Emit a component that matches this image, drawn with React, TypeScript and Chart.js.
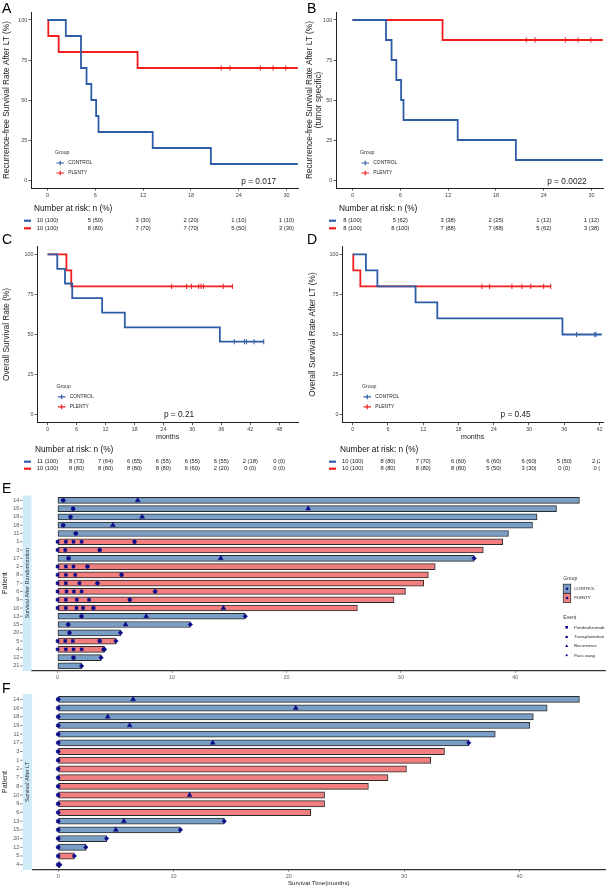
import React, { useEffect, useRef } from "react";
import { Chart, registerables } from "chart.js";

Chart.register(...registerables);

// ---------------- DATA ----------------
const groupNames = ["CONTROL", "PLENTY"];
const eventNames = ["Pembrolizumab", "Transplantation", "Recurrence", "Pass away"];

// Panel A: recurrence-free survival after LT
const aTicks = [0, 6, 12, 18, 24, 30];
const aControlTimes = [0, 2.3, 4.2, 4.9, 5.5, 6.1, 6.4, 13.2, 20.5, 31.4];
const aControlSurv = [100, 90, 70, 60, 50, 40, 30, 20, 10, 10];
const aControlCensor: number[] = [];
const aPlentyTimes = [0, 0.1, 1.4, 11.3, 31.4];
const aPlentySurv = [100, 90, 80, 70, 70];
const aPlentyCensor = [21.8, 22.9, 26.7, 28.3, 29.9];
const aRiskControl = ["10 (100)", "5 (50)", "3 (30)", "2 (20)", "1 (10)", "1 (10)"];
const aRiskPlenty = ["10 (100)", "8 (80)", "7 (70)", "7 (70)", "5 (50)", "3 (30)"];
const aP = "p = 0.017";

// Panel B: tumor-specific recurrence-free survival
const bTicks = [0, 6, 12, 18, 24, 30];
const bControlTimes = [0, 4.2, 4.9, 5.5, 6.1, 6.4, 13.2, 20.5, 31.4];
const bControlSurv = [100, 87.5, 75, 62.5, 50, 37.5, 25, 12.5, 12.5];
const bControlCensor: number[] = [];
const bPlentyTimes = [0, 11.3, 31.4];
const bPlentySurv = [100, 87.5, 87.5];
const bPlentyCensor = [21.8, 22.9, 26.7, 28.3, 29.9];
const bRiskControl = ["8 (100)", "5 (62)", "3 (38)", "2 (25)", "1 (12)", "1 (12)"];
const bRiskPlenty = ["8 (100)", "8 (100)", "7 (88)", "7 (88)", "5 (62)", "3 (38)"];
const bP = "p = 0.0022";

// Panel C: overall survival
const cTicks = [0, 6, 12, 18, 24, 30, 36, 42, 48];
const cControlTimes = [0, 2.0, 3.6, 5.1, 11.3, 16.0, 35.7, 44.8];
const cControlSurv = [100, 90.9, 81.8, 72.7, 63.6, 54.5, 45.5, 45.5];
const cControlCensor = [38.7, 40.8, 41.2, 42.8, 44.8];
const cPlentyTimes = [0, 3.9, 4.9, 38.3];
const cPlentySurv = [100, 90, 80, 80];
const cPlentyCensor = [25.7, 28.8, 29.8, 31.3, 31.8, 32.3, 36.4, 38.3];
const cRiskControl = ["11 (100)", "8 (73)", "7 (64)", "6 (55)", "6 (55)", "6 (55)", "6 (55)", "2 (18)", "0 (0)"];
const cRiskPlenty = ["10 (100)", "8 (80)", "8 (80)", "8 (80)", "8 (80)", "6 (60)", "2 (20)", "0 (0)", "0 (0)"];
const cP = "p = 0.21";

// Panel D: overall survival after LT
const dTicks = [0, 6, 12, 18, 24, 30, 36, 42];
const dControlTimes = [0, 2.25, 4.2, 10.7, 14.4, 35.7, 42.4];
const dControlSurv = [100, 90, 80, 70, 60, 50, 50];
const dControlCensor = [38.1, 41.2, 41.4];
const dPlentyTimes = [0, 0.1, 1.3, 33.7];
const dPlentySurv = [100, 90, 80, 80];
const dPlentyCensor = [22.0, 23.3, 27.1, 28.8, 30.3, 32.5, 33.7];
const dRiskControl = ["10 (100)", "8 (80)", "7 (70)", "6 (60)", "6 (60)", "6 (60)", "5 (50)", "2 (20)"];
const dRiskPlenty = ["10 (100)", "8 (80)", "8 (80)", "8 (80)", "5 (50)", "3 (30)", "0 (0)", "0 (0)"];
const dP = "p = 0.45";

// Panel E: swimmer plot, survival after randomization
const swimTicks = [0, 10, 20, 30, 40];
const ePatients = ["14", "16", "19", "18", "11", "1", "3", "17", "2", "8", "7", "6", "9", "10", "13", "15", "20", "5", "4", "12", "21"];
const eGroups = ["CONTROL", "CONTROL", "CONTROL", "CONTROL", "CONTROL", "PLENTY", "PLENTY", "CONTROL", "PLENTY", "PLENTY", "PLENTY", "PLENTY", "PLENTY", "PLENTY", "CONTROL", "CONTROL", "CONTROL", "PLENTY", "PLENTY", "CONTROL", "CONTROL"];
const eTimes = [45.6, 43.6, 41.9, 41.5, 39.4, 38.9, 37.2, 36.4, 33.0, 32.4, 32.0, 30.4, 29.4, 26.2, 16.4, 11.6, 5.5, 5.1, 4.1, 3.8, 2.1];
const ePembro: [string, number][] = [
  ["1", 0], ["1", 0.72], ["1", 1.39], ["1", 2.1],
  ["3", 0], ["3", 0.67],
  ["2", 0], ["2", 0.72], ["2", 1.39],
  ["8", 0], ["8", 0.72], ["8", 1.54],
  ["7", 0], ["7", 0.72], ["7", 1.91],
  ["6", 0], ["6", 0.78], ["6", 1.42], ["6", 2.1],
  ["9", 0], ["9", 0.72], ["9", 1.68], ["9", 2.75],
  ["10", 0], ["10", 0.72], ["10", 1.65], ["10", 2.23],
  ["5", 0], ["5", 0.67], ["5", 1.33],
  ["4", 0], ["4", 0.72], ["4", 1.39], ["4", 2.1],
];
const eTransplant: [string, number][] = [
  ["14", 0.49], ["16", 1.36], ["19", 1.13], ["18", 0.49], ["11", 1.59], ["1", 6.72], ["3", 3.68],
  ["17", 0.96], ["2", 2.61], ["8", 5.59], ["7", 3.48], ["6", 8.52], ["9", 6.31], ["10", 3.13],
  ["13", 2.09], ["15", 0.93], ["20", 1.04], ["5", 3.68], ["4", 4.03], ["12", 1.39],
];
const eRecurrence: [string, number][] = [
  ["14", 7.0], ["16", 21.9], ["19", 7.39], ["18", 4.83], ["17", 14.26], ["10", 14.49], ["13", 7.74], ["15", 5.94],
];
const ePassAway: [string, number][] = [
  ["17", 36.4], ["13", 16.4], ["15", 11.6], ["20", 5.5], ["5", 5.1], ["4", 4.1], ["12", 3.8], ["21", 2.1],
];

// Panel F: swimmer plot, survival after LT
const fPatients = ["14", "16", "18", "19", "11", "17", "3", "1", "2", "7", "8", "10", "9", "6", "13", "15", "20", "12", "5", "4"];
const fGroups = ["CONTROL", "CONTROL", "CONTROL", "CONTROL", "CONTROL", "CONTROL", "PLENTY", "PLENTY", "PLENTY", "PLENTY", "PLENTY", "PLENTY", "PLENTY", "PLENTY", "CONTROL", "CONTROL", "CONTROL", "CONTROL", "PLENTY", "PLENTY"];
const fTimes = [45.2, 42.4, 41.2, 40.9, 37.9, 35.6, 33.5, 32.3, 30.2, 28.6, 26.9, 23.1, 23.1, 21.9, 14.4, 10.6, 4.2, 2.4, 1.4, 0.15];
const fPembro: [string, number][] = [];
const fTransplant: [string, number][] = [
  ["14", 0], ["16", 0], ["18", 0], ["19", 0], ["11", 0], ["17", 0], ["3", 0], ["1", 0], ["2", 0], ["7", 0],
  ["8", 0], ["10", 0], ["9", 0], ["6", 0], ["13", 0], ["15", 0], ["20", 0], ["12", 0], ["5", 0], ["4", 0],
];
const fRecurrence: [string, number][] = [
  ["14", 6.5], ["16", 20.6], ["18", 4.3], ["19", 6.2], ["17", 13.4], ["10", 11.4], ["13", 5.7], ["15", 5.0],
];
const fPassAway: [string, number][] = [
  ["17", 35.6], ["13", 14.4], ["15", 10.6], ["20", 4.2], ["12", 2.4], ["5", 1.4], ["4", 0.15],
];

// ---------------- STYLE ----------------
const FONT = "'Liberation Sans', Arial, Helvetica, sans-serif";
const BLUE = "#2E5CA6";
const RED = "#F21D1D";
const BAR_CONTROL = "#7A9FC6";
const BAR_PLENTY = "#F27F7F";
const NAVY = "#0B0B8A";
const STRIP = "#CFEBF8";

type Series = { times: number[]; surv: number[]; censor: number[] };
type KMSpec = {
  letter: string; left: number; top: number; width: number; height: number;
  plotL: number; plotT: number; plotR: number; plotB: number;
  xMin: number; xMax: number; ticks: number[];
  control: Series; plenty: Series;
  yTitle: string[]; yTitleX: number[]; letterY: number;
  legendX: number; legendY: number;
  pText: string; pX: number; pY: number;
  xTitle?: string; xTitleY?: number;
  riskHeaderX: number; riskHeaderY: number; riskRowY: number[];
  riskControl: string[]; riskPlenty: string[]; riskClip?: number;
};

const specA: KMSpec = {
  letter: "A", left: 0, top: 0, width: 305, height: 236,
  plotL: 31, plotT: 12, plotR: 298, plotB: 188, xMin: -2.07, xMax: 31.43, ticks: aTicks,
  control: { times: aControlTimes, surv: aControlSurv, censor: aControlCensor },
  plenty: { times: aPlentyTimes, surv: aPlentySurv, censor: aPlentyCensor },
  yTitle: ["Recurrence-free Survival Rate After LT (%)"], yTitleX: [6.3], letterY: 12.7,
  legendX: 55, legendY: 153, pText: aP, pX: 258.7, pY: 182,
  riskHeaderX: 34, riskHeaderY: 208.3, riskRowY: [220.7, 228.3],
  riskControl: aRiskControl, riskPlenty: aRiskPlenty,
};
const specB: KMSpec = {
  letter: "B", left: 305, top: 0, width: 305, height: 236,
  plotL: 31, plotT: 12, plotR: 298, plotB: 188, xMin: -2.07, xMax: 31.43, ticks: bTicks,
  control: { times: bControlTimes, surv: bControlSurv, censor: bControlCensor },
  plenty: { times: bPlentyTimes, surv: bPlentySurv, censor: bPlentyCensor },
  yTitle: ["Recurrence-free Survival Rate After LT (%)", "(tumor specific)"], yTitleX: [5.2, 14.2], letterY: 12.7,
  legendX: 55, legendY: 153, pText: bP, pX: 262, pY: 182,
  riskHeaderX: 34, riskHeaderY: 208.3, riskRowY: [220.7, 228.3],
  riskControl: bRiskControl, riskPlenty: bRiskPlenty,
};
const specC: KMSpec = {
  letter: "C", left: 0, top: 230, width: 305, height: 244,
  plotL: 37.3, plotT: 16.3, plotR: 298, plotB: 192.7, xMin: -2.14, xMax: 51.9, ticks: cTicks,
  control: { times: cControlTimes, surv: cControlSurv, censor: cControlCensor },
  plenty: { times: cPlentyTimes, surv: cPlentySurv, censor: cPlentyCensor },
  yTitle: ["Overall Survival Rate (%)"], yTitleX: [6.7], letterY: 14.3,
  legendX: 56.4, legendY: 156.9, pText: cP, pX: 179, pY: 185,
  xTitle: "months", xTitleY: 207.3,
  riskHeaderX: 35, riskHeaderY: 219.3, riskRowY: [231.7, 238.7],
  riskControl: cRiskControl, riskPlenty: cRiskPlenty,
};
const specD: KMSpec = {
  letter: "D", left: 305, top: 230, width: 305, height: 244,
  plotL: 37.3, plotT: 16.3, plotR: 298, plotB: 192.7, xMin: -1.77, xMax: 42.6, ticks: dTicks,
  control: { times: dControlTimes, surv: dControlSurv, censor: dControlCensor },
  plenty: { times: dPlentyTimes, surv: dPlentySurv, censor: dPlentyCensor },
  yTitle: ["Overall Survival Rate After LT (%)"], yTitleX: [7.8], letterY: 14.3,
  legendX: 57, legendY: 156.9, pText: dP, pX: 210.6, pY: 185,
  xTitle: "months", xTitleY: 207.3,
  riskHeaderX: 35, riskHeaderY: 219.3, riskRowY: [231.7, 238.7],
  riskControl: dRiskControl, riskPlenty: dRiskPlenty, riskClip: 295,
};

type SwimSpec = {
  letter: string; letterY: number; left: number; top: number; width: number; height: number;
  plotL: number; plotT: number; plotR: number; plotB: number; xMin: number; xMax: number;
  patients: string[]; groups: string[]; times: number[];
  pembro: [string, number][]; transplant: [string, number][]; recurrence: [string, number][]; pass: [string, number][];
  strip: string; xTitle?: string; xTitleY?: number; legend: boolean; barH: number;
};

const specE: SwimSpec = {
  letter: "E", letterY: 14.7, left: 0, top: 478, width: 610, height: 206,
  plotL: 31.5, plotT: 17.4, plotR: 608.3, plotB: 192.9, xMin: -2.28, xMax: 47.88,
  patients: ePatients, groups: eGroups, times: eTimes,
  pembro: ePembro, transplant: eTransplant, recurrence: eRecurrence, pass: ePassAway,
  strip: "Survival After Randomization", legend: true, barH: 6,
};
const specF: SwimSpec = {
  letter: "F", letterY: 12.7, left: 0, top: 680, width: 610, height: 208,
  plotL: 32.1, plotT: 14.1, plotR: 608.8, plotB: 189.9, xMin: -2.26, xMax: 47.46,
  patients: fPatients, groups: fGroups, times: fTimes,
  pembro: fPembro, transplant: fTransplant, recurrence: fRecurrence, pass: fPassAway,
  strip: "Survival After LT", xTitle: "Survival Time(months)", xTitleY: 203.3, legend: false, barH: 6.2,
};

// ---------------- HELPERS ----------------
const survAt = (s: Series, t: number) => {
  let v = s.surv[0];
  for (let i = 0; i < s.times.length; i++) if (s.times[i] <= t) v = s.surv[i];
  return v;
};

function vText(ctx: CanvasRenderingContext2D, text: string, x: number, y: number) {
  ctx.save();
  ctx.translate(x, y);
  ctx.rotate(-Math.PI / 2);
  ctx.fillText(text, 0, 0);
  ctx.restore();
}

function drawMarker(ctx: CanvasRenderingContext2D, style: string, x: number, y: number, r: number) {
  ctx.fillStyle = NAVY;
  ctx.beginPath();
  if (style === "rect") ctx.rect(x - r, y - r, 2 * r, 2 * r);
  else if (style === "circle") ctx.arc(x, y, r, 0, Math.PI * 2);
  else if (style === "triangle") {
    ctx.moveTo(x, y - r * 1.15); ctx.lineTo(x + r, y + r * 0.6); ctx.lineTo(x - r, y + r * 0.6); ctx.closePath();
  } else {
    ctx.moveTo(x, y - r); ctx.lineTo(x + r, y); ctx.lineTo(x, y + r); ctx.lineTo(x - r, y); ctx.closePath();
  }
  ctx.fill();
}

function axisOpts(min: number, max: number, ticks: number[], size: number, extra: any) {
  return {
    type: "linear", min, max, offset: false,
    afterBuildTicks: (ax: any) => { ax.ticks = ticks.map((v) => ({ value: v })); },
    grid: { display: true, drawOnChartArea: false, drawTicks: true, tickLength: 2.5, color: "#333", lineWidth: 0.8, offset: false },
    border: { display: true, color: "#222", width: 1 },
    ticks: { font: { family: FONT, size }, color: "#444", padding: 1.2, maxRotation: 0, autoSkip: false },
    ...extra,
  };
}

// ---------------- KM CONFIG ----------------
function kmConfig(spec: KMSpec): any {
  const XH = 12;
  const line = (s: Series, color: string) => ({
    data: s.times.map((t, i) => ({ x: t, y: s.surv[i] })),
    borderColor: color, borderWidth: 1.8, stepped: true, pointRadius: 0, fill: false, order: 2,
  });
  const cens = (s: Series, color: string) => ({
    data: s.censor.map((t) => ({ x: t, y: survAt(s, t) })),
    showLine: false, pointStyle: "line", rotation: 90, pointRadius: 2.6,
    borderColor: color, backgroundColor: color, borderWidth: 1, order: 1,
  });
  const decor = {
    id: "kmDecor" + spec.letter,
    afterDraw(chart: any) {
      const ctx: CanvasRenderingContext2D = chart.ctx;
      const xs = chart.scales.x;
      const ca = chart.chartArea;
      ctx.save();
      ctx.fillStyle = "#000";
      ctx.font = `14px ${FONT}`;
      ctx.textAlign = "left";
      ctx.textBaseline = "alphabetic";
      ctx.fillText(spec.letter, 2, spec.letterY);
      ctx.fillStyle = "#222";
      ctx.font = `8.3px ${FONT}`;
      ctx.textAlign = "center";
      ctx.textBaseline = "middle";
      spec.yTitle.forEach((t, i) => vText(ctx, t, spec.yTitleX[i], (ca.top + ca.bottom) / 2));
      if (spec.xTitle) {
        ctx.font = `7.1px ${FONT}`;
        ctx.fillText(spec.xTitle, (ca.left + ca.right) / 2, spec.xTitleY!);
      }
      ctx.font = `8.3px ${FONT}`;
      ctx.fillText(spec.pText, spec.pX, spec.pY);
      ctx.textAlign = "left";
      ctx.fillStyle = "#333";
      ctx.font = `5.2px ${FONT}`;
      ctx.fillText("Group", spec.legendX, spec.legendY);
      [BLUE, RED].forEach((c, i) => {
        const y = spec.legendY + 10 * (i + 1);
        const lx = spec.legendX;
        ctx.strokeStyle = c;
        ctx.lineWidth = 1.2;
        ctx.beginPath();
        ctx.moveTo(lx + 1.5, y); ctx.lineTo(lx + 9, y);
        ctx.moveTo(lx + 5.25, y - 2.3); ctx.lineTo(lx + 5.25, y + 2.3);
        ctx.stroke();
        ctx.fillStyle = "#222";
        ctx.font = `4.9px ${FONT}`;
        ctx.fillText(groupNames[i], lx + 13.3, y);
      });
      ctx.fillStyle = "#111";
      ctx.font = `8.3px ${FONT}`;
      ctx.fillText("Number at risk: n (%)", spec.riskHeaderX, spec.riskHeaderY);
      [spec.riskControl, spec.riskPlenty].forEach((row, r) => {
        const y = spec.riskRowY[r];
        ctx.fillStyle = r === 0 ? BLUE : RED;
        ctx.fillRect(24, y - 1.1, 7, 2.2);
        ctx.save();
        ctx.beginPath();
        ctx.rect(0, 0, spec.riskClip ?? spec.width, spec.height);
        ctx.clip();
        ctx.fillStyle = "#222";
        ctx.font = `5.8px ${FONT}`;
        ctx.textAlign = "center";
        row.forEach((txt, i) => ctx.fillText(txt, xs.getPixelForValue(spec.ticks[i]), y));
        ctx.restore();
      });
      ctx.restore();
    },
  };
  return {
    type: "line",
    data: {
      datasets: [line(spec.control, BLUE), line(spec.plenty, RED), cens(spec.control, BLUE), cens(spec.plenty, RED)],
    },
    options: {
      responsive: false, animation: false, devicePixelRatio: 1, events: [],
      layout: { padding: { left: 0, top: spec.plotT, right: spec.width - spec.plotR, bottom: spec.height - spec.plotB - XH } },
      plugins: { legend: { display: false }, tooltip: { enabled: false } },
      scales: {
        x: axisOpts(spec.xMin, spec.xMax, spec.ticks, 5.5, { afterFit: (ax: any) => { ax.height = XH; } }),
        y: axisOpts(-5, 105, [0, 25, 50, 75, 100], 5.5, { afterFit: (ax: any) => { ax.width = spec.plotL; } }),
      },
    },
    plugins: [decor],
  };
}

// ---------------- SWIMMER CONFIG ----------------
function swimConfig(spec: SwimSpec): any {
  const XH = 10;
  const n = spec.patients.length;
  const idx = (p: string) => spec.patients.indexOf(p);
  const marker = (ev: [string, number][], style: string, r: number) => ({
    type: "scatter",
    data: ev.map(([p, t]) => ({ x: t, y: idx(p) })),
    pointStyle: style, pointRadius: r, backgroundColor: NAVY, borderColor: NAVY, borderWidth: 0.5, order: 1,
  });
  const decor = {
    id: "swimDecor" + spec.letter,
    afterDraw(chart: any) {
      const ctx: CanvasRenderingContext2D = chart.ctx;
      const ys = chart.scales.y;
      const ca = chart.chartArea;
      ctx.save();
      ctx.fillStyle = "#000";
      ctx.font = `14px ${FONT}`;
      ctx.textAlign = "left";
      ctx.textBaseline = "alphabetic";
      ctx.fillText(spec.letter, 2, spec.letterY);
      ctx.fillStyle = "#222";
      ctx.font = `7px ${FONT}`;
      ctx.textAlign = "center";
      ctx.textBaseline = "middle";
      vText(ctx, "Patient", 5.5, (ca.top + ca.bottom) / 2);
      ctx.fillStyle = STRIP;
      ctx.fillRect(22.7, ca.top, ca.left - 22.7, ca.bottom - ca.top);
      ctx.fillStyle = "#333";
      ctx.font = `5.5px ${FONT}`;
      vText(ctx, spec.strip, (22.7 + ca.left) / 2, (ca.top + ca.bottom) / 2);
      ctx.textAlign = "right";
      ctx.fillStyle = "#555";
      ctx.strokeStyle = "#555";
      ctx.lineWidth = 0.7;
      spec.patients.forEach((p, i) => {
        const y = ys.getPixelForValue(i);
        ctx.fillText(p, 19.3, y);
        ctx.beginPath(); ctx.moveTo(20, y); ctx.lineTo(22.5, y); ctx.stroke();
      });
      if (spec.xTitle) {
        ctx.fillStyle = "#222";
        ctx.textAlign = "center";
        ctx.font = `6.2px ${FONT}`;
        ctx.fillText(spec.xTitle, (ca.left + ca.right) / 2, spec.xTitleY!);
      }
      if (spec.legend) {
        const o = spec.top;
        ctx.textAlign = "left";
        ctx.fillStyle = "#333";
        ctx.font = `5px ${FONT}`;
        ctx.fillText("Group", 563.3, 578.3 - o);
        [BAR_CONTROL, BAR_PLENTY].forEach((c, i) => {
          const y0 = 584.2 + i * 9.3 - o;
          ctx.fillStyle = c;
          ctx.fillRect(563.3, y0, 7.4, 9);
          ctx.strokeStyle = "#333";
          ctx.lineWidth = 0.8;
          ctx.strokeRect(563.3, y0, 7.4, 9);
          drawMarker(ctx, "circle", 567, y0 + 4.5, 1.3);
          ctx.fillStyle = "#222";
          ctx.font = `4.3px ${FONT}`;
          ctx.fillText(groupNames[i], 574, y0 + 4.5);
        });
        ctx.fillStyle = "#333";
        ctx.font = `5px ${FONT}`;
        ctx.fillText("Event", 563.3, 617.3 - o);
        const styles = ["rect", "circle", "triangle", "diamond"];
        const rows = [627.3, 637, 646, 655.3];
        eventNames.forEach((name, i) => {
          drawMarker(ctx, styles[i], 566.7, rows[i] - o, i === 2 ? 1.6 : 1.3);
          ctx.fillStyle = "#222";
          ctx.font = `4.4px ${FONT}`;
          ctx.fillText(name, 574, rows[i] - o);
        });
      }
      ctx.restore();
    },
  };
  return {
    type: "bar",
    data: {
      datasets: [
        {
          type: "bar", indexAxis: "y",
          data: spec.times.map((t, i) => ({ x: t, y: i })),
          backgroundColor: spec.groups.map((g) => (g === groupNames[0] ? BAR_CONTROL : BAR_PLENTY)),
          borderColor: "#2b2b2b", borderWidth: 1, borderSkipped: false, barThickness: spec.barH, order: 5,
        },
        marker(spec.pembro, "rect", 2.1),
        marker(spec.transplant, "circle", 2.0),
        marker(spec.recurrence, "triangle", 2.8),
        marker(spec.pass, "rectRot", 2.3),
      ],
    },
    options: {
      responsive: false, animation: false, devicePixelRatio: 1, events: [],
      layout: { padding: { left: spec.plotL, top: spec.plotT, right: spec.width - spec.plotR, bottom: spec.height - spec.plotB - XH } },
      plugins: { legend: { display: false }, tooltip: { enabled: false } },
      scales: {
        x: axisOpts(spec.xMin, spec.xMax, swimTicks, 5.5, {
          afterFit: (ax: any) => { ax.height = XH; },
          grid: { display: true, drawOnChartArea: false, drawTicks: true, tickLength: 2, color: "#666", lineWidth: 0.7, offset: false },
          ticks: { font: { family: FONT, size: 5.5 }, color: "#666", padding: 1, maxRotation: 0, autoSkip: false },
          border: { display: true, color: "#333", width: 1.2 },
        }),
        y: { type: "linear", reverse: true, min: -0.6, max: n - 0.4, display: false, offset: false },
      },
    },
    plugins: [decor],
  };
}

// ---------------- COMPONENTS ----------------
function ChartCanvas({ left, top, width, height, make }: { left: number; top: number; width: number; height: number; make: () => any }) {
  const ref = useRef<HTMLCanvasElement>(null);
  useEffect(() => {
    const chart = new Chart(ref.current as HTMLCanvasElement, make());
    return () => chart.destroy();
  }, []);
  return (
    <canvas
      ref={ref}
      width={width}
      height={height}
      style={{ position: "absolute", left, top, width, height, display: "block" }}
    />
  );
}

export default function App() {
  useEffect(() => {
    document.body.style.margin = "0";
    document.body.style.background = "#fff";
  }, []);
  const kms = [specA, specB, specC, specD];
  const swims = [specE, specF];
  return (
    <div style={{ position: "relative", width: 610, height: 888, background: "#fff", overflow: "hidden" }}>
      {kms.map((s) => (
        <ChartCanvas key={s.letter} left={s.left} top={s.top} width={s.width} height={s.height} make={() => kmConfig(s)} />
      ))}
      {swims.map((s) => (
        <ChartCanvas key={s.letter} left={s.left} top={s.top} width={s.width} height={s.height} make={() => swimConfig(s)} />
      ))}
    </div>
  );
}
